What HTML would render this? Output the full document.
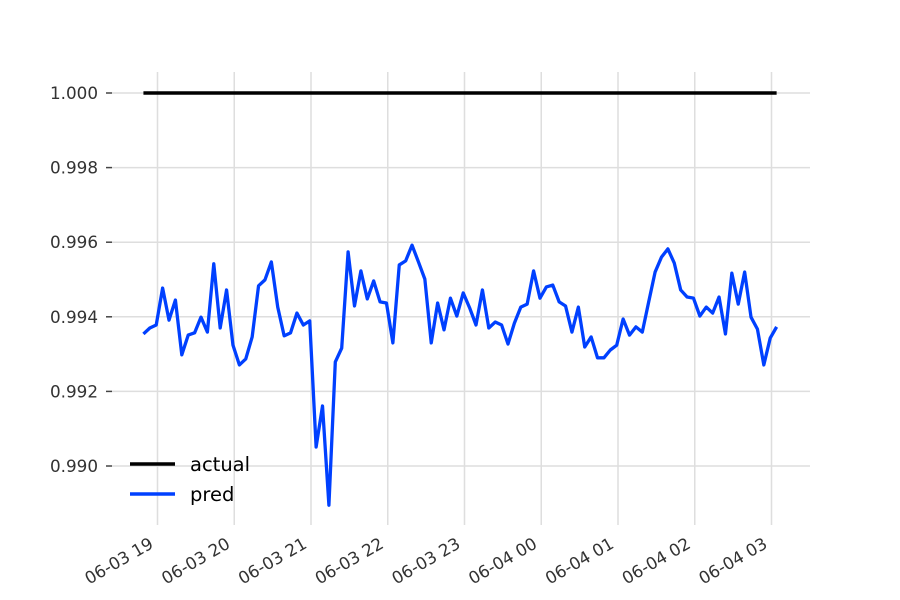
<!DOCTYPE html>
<html><head><meta charset="utf-8">
<style>
html,body{margin:0;padding:0;background:#fff;}
svg{display:block;font-family:"DejaVu Sans","Liberation Sans",sans-serif;}
</style></head>
<body>
<svg id="chart" width="900" height="600" viewBox="0 0 900 600" xmlns="http://www.w3.org/2000/svg">
<rect width="900" height="600" fill="#fff"/>
<g id="grid"></g>
<g id="yticks"></g>
<g id="xticks"></g>
<g id="series"></g>
<g>
  <g>
    <line x1="130" y1="464" x2="175" y2="464" stroke="#000" stroke-width="3.5"/>
    <text x="190" y="471" font-size="19.5" fill="#000">actual</text>
  </g>
  <g>
    <line x1="130" y1="494" x2="175" y2="494" stroke="#0040ff" stroke-width="3.5"/>
    <text x="190" y="501" font-size="19.5" fill="#000">pred</text>
  </g>
</g>
</svg>
<script>
// data
const startMinutes = -11; // minutes relative to 06-03 19:00
const stepMinutes = 5;
const predValues = [0.99354,0.99370,0.99378,0.99477,0.99391,0.99445,0.99298,0.99351,0.99357,0.99399,
0.99359,0.99542,0.99370,0.99472,0.99324,0.99271,0.99287,0.99346,0.99483,0.99499,
0.99547,0.99426,0.99349,0.99357,0.99410,0.99378,0.99389,0.99051,0.99161,0.98895,
0.99279,0.99316,0.99574,0.99429,0.99523,0.99448,0.99496,0.99440,0.99437,0.99330,
0.99539,0.99550,0.99592,0.99547,0.99501,0.99330,0.99437,0.99365,0.99450,0.99402,
0.99464,0.99424,0.99378,0.99472,0.99370,0.99386,0.99378,0.99327,0.99383,0.99426,
0.99434,0.99523,0.99450,0.99480,0.99485,0.99440,0.99429,0.99359,0.99426,0.99319,
0.99346,0.99290,0.99290,0.99311,0.99324,0.99394,0.99351,0.99373,0.99359,0.99440,
0.99520,0.99560,0.99582,0.99544,0.99472,0.99453,0.99450,0.99402,0.99426,0.99410,
0.99453,0.99354,0.99517,0.99434,0.99520,0.99399,0.99367,0.99271,0.99343,0.99373];
const actualValues = predValues.map(()=>1.0);
const yTicks = [0.990,0.992,0.994,0.996,0.998,1.000];
const yTickLabels = ["0.990","0.992","0.994","0.996","0.998","1.000"];
const xTickHours = [0,1,2,3,4,5,6,7,8];
const xTickLabels = ["06-03 19","06-03 20","06-03 21","06-03 22","06-03 23","06-04 00","06-04 01","06-04 02","06-04 03"];

// axes
const NS="http://www.w3.org/2000/svg";
const yScale = v => 466 + (0.990 - v) * 37300;
const xScale = h => 157.5 + h * 76.75;
const plotLeft=112, plotRight=810, plotTop=72, plotBottom=525;
function mk(tag, attrs, parent){const e=document.createElementNS(NS,tag);for(const k in attrs)e.setAttribute(k,attrs[k]);parent.appendChild(e);return e;}
const grid=document.getElementById('grid'), yg=document.getElementById('yticks'), xg=document.getElementById('xticks'), sg=document.getElementById('series');

yTicks.forEach((v,i)=>{
  const y=yScale(v);
  const gl=mk('line',{x1:plotLeft,x2:plotRight,y1:y,y2:y,stroke:'#dedede','stroke-width':1.5},grid);
  
  
  const tm=mk('line',{x1:106,x2:112,y1:y,y2:y,stroke:'#444','stroke-width':1.5},yg);
  
  
  const t=mk('text',{x:98,y:y+6,'text-anchor':'end','font-size':16.8,fill:'#333'},yg);
  t.textContent=yTickLabels[i];
  
  
});
xTickHours.forEach((h,i)=>{
  const x=xScale(h);
  const gl=mk('line',{x1:x,x2:x,y1:plotTop,y2:plotBottom,stroke:'#dedede','stroke-width':1.5},grid);
  
  
  const t=mk('text',{x:0,y:0,'text-anchor':'end','font-size':16.8,fill:'#333',transform:`translate(${x-3},${547}) rotate(-30)`},xg);
  t.textContent=xTickLabels[i];
  
  
});
function pts(vals){return vals.map((v,i)=>{const h=(startMinutes+i*stepMinutes)/60;return xScale(h).toFixed(2)+','+yScale(v).toFixed(2);}).join(' ');}
const la=mk('polyline',{points:pts(actualValues),fill:'none',stroke:'#000','stroke-width':3.5},sg);


const lp=mk('polyline',{points:pts(predValues),fill:'none',stroke:'#0040ff','stroke-width':3.3,'stroke-linejoin':'round'},sg);


</script>
</body></html>
